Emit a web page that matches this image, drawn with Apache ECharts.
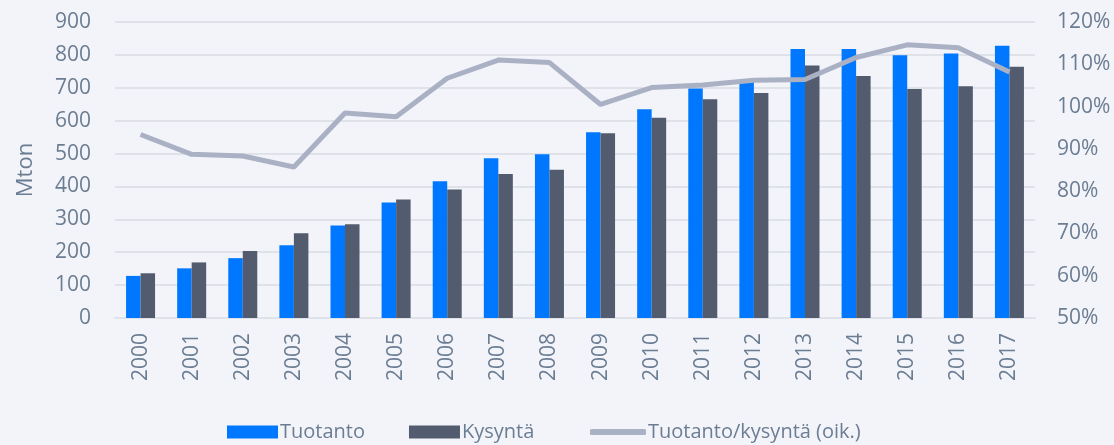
<!DOCTYPE html>
<html><head><meta charset="utf-8">
<script src="https://cdn.jsdelivr.net/npm/echarts@6/dist/echarts.min.js"></script>
<style>html,body{margin:0;padding:0;background:#f3f4f9;}#c{width:1114px;height:445px;}</style>
</head><body><div id="c"></div>
<script>
const years = ['2000','2001','2002','2003','2004','2005','2006','2007','2008','2009','2010','2011','2012','2013','2014','2015','2016','2017'];
const tuotanto = [128,151,182,221,281,351,416,486,498,565,635,698,726,818,818,799,804,828];
const kysynta = [136,169,204,258,285,360,391,438,451,562,609,665,684,768,736,696,705,764];
const suhde = [93.4,88.7,88.3,85.7,98.5,97.6,106.7,111.0,110.4,100.5,104.5,105.1,106.2,106.4,111.6,114.6,113.9,108.2];
const leftTicks = {min:0,max:900,interval:100};
const rightTicks = {min:50,max:120,interval:10};

const font = '"Open Sans", Lato, sans-serif';
const labelColor = '#6b7d93';
const chart = echarts.init(document.getElementById('c'));
const legendText = {fontSize:20,color:labelColor,fontFamily:font,padding:[0,0,0,-3]};
chart.setOption({
  backgroundColor:'#f3f4f9',
  animation:false,
  textStyle:{fontFamily:font},
  grid:{left:115,right:79,top:22,bottom:127,containLabel:false},
  legend:[
    {top:417,left:222,itemGap:44,itemWidth:51,itemHeight:13,textStyle:legendText,
     data:[{name:'Tuotanto',icon:'rect'},{name:'Kysyntä',icon:'rect'}]},
    {top:417,left:585,itemWidth:56,itemHeight:6,textStyle:legendText,
     data:[{name:'Tuotanto/kysyntä (oik.)',icon:'roundRect',itemStyle:{color:'#aab1c4'}}]}
  ],
  xAxis:{type:'category',data:years,
    axisLine:{lineStyle:{color:'#dfe2e9',width:2}},axisTick:{show:false},
    axisLabel:{rotate:90,color:labelColor,fontSize:21,margin:15}},
  yAxis:[
    {type:'value',min:leftTicks.min,max:leftTicks.max,interval:leftTicks.interval,name:'Mton',
     nameLocation:'middle',nameGap:78,nameTextStyle:{color:labelColor,fontSize:22,fontFamily:font},
     axisLabel:{color:labelColor,fontSize:21,margin:24},
     splitLine:{lineStyle:{color:'#dfe2e9',width:2}},axisLine:{show:false},axisTick:{show:false}},
    {type:'value',min:rightTicks.min,max:rightTicks.max,interval:rightTicks.interval,
     axisLabel:{color:labelColor,fontSize:21,margin:22,formatter:'{value}%'},
     splitLine:{show:false},axisLine:{show:false},axisTick:{show:false}}
  ],
  series:[
    {name:'Tuotanto',type:'bar',data:tuotanto,barWidth:14.5,barGap:'0%',itemStyle:{color:'#0077ff'}},
    {name:'Kysyntä',type:'bar',data:kysynta,barWidth:14.5,itemStyle:{color:'#525c6e'}},
    {name:'Tuotanto/kysyntä (oik.)',type:'line',yAxisIndex:1,data:suhde,symbol:'none',
     lineStyle:{color:'#aab1c4',width:5},itemStyle:{color:'#aab1c4'}}
  ]
});
</script></body></html>
